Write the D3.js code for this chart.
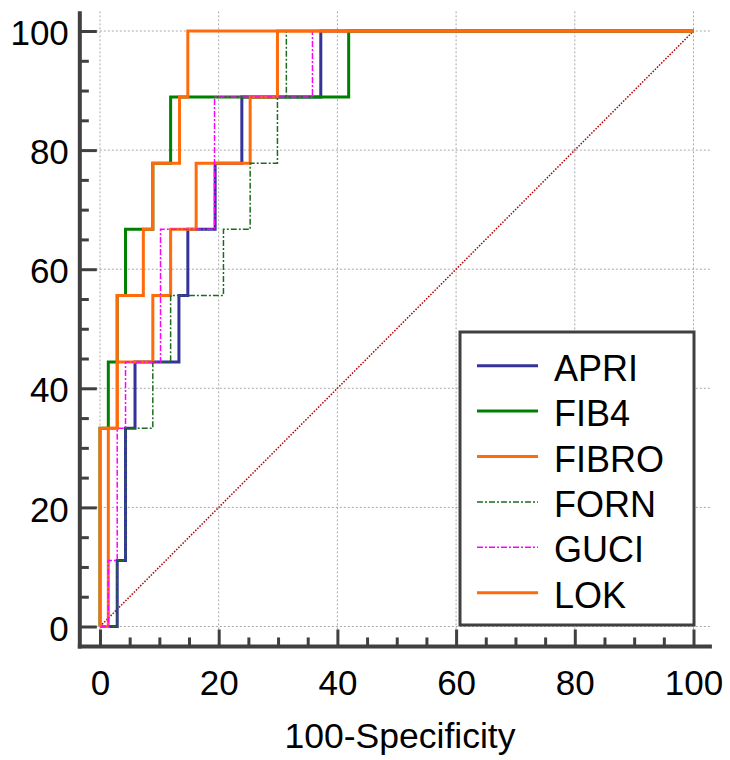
<!DOCTYPE html>
<html>
<head>
<meta charset="utf-8">
<script src="https://cdn.jsdelivr.net/npm/d3@7"></script>
<style>
  html, body { margin: 0; padding: 0; background: #fff; }
  svg { display: block; }
  text { font-family: "Liberation Sans", Arial, sans-serif; }
</style>
</head>
<body>
<svg id="chart" width="730" height="760"></svg>
<script>
// ---- data ----
const categories = ["APRI", "FIB4", "FIBRO", "FORN", "GUCI", "LOK"];
// ROC step points: vertical rise at previous x, then horizontal run to this x
const apriX  = [0, 2.9, 4.3, 5.9, 13.3, 14.8, 19.4, 23.9, 37.2, 100];
const apriY  = [0, 0, 11.1, 33.3, 44.4, 55.6, 66.7, 77.8, 88.9, 100];
const fib4X  = [0, 1.4, 2.9, 4.3, 8.9, 11.9, 41.9, 100];
const fib4Y  = [0, 33.3, 44.4, 55.6, 66.7, 77.8, 88.9, 100];
const fibroX = [0, 1.4, 2.9, 8.9, 11.9, 16.2, 25.3, 29.9, 100];
const fibroY = [0, 0, 33.3, 44.4, 55.6, 66.7, 77.8, 88.9, 100];
const fornX  = [0, 2.9, 4.3, 8.9, 11.9, 20.8, 25.3, 29.9, 31.4, 100];
const fornY  = [0, 0, 11.1, 33.3, 44.4, 55.6, 66.7, 77.8, 88.9, 100];
const guciX  = [0, 1.4, 2.9, 4.3, 10.2, 19.3, 35.8, 100];
const guciY  = [0, 0, 11.1, 33.3, 44.4, 66.7, 88.9, 100];
const lokX   = [0, 2.9, 7.3, 8.9, 13.4, 14.8, 100];
const lokY   = [0, 33.3, 55.6, 66.7, 77.8, 88.9, 100];
const refX   = [0, 100];
const refY   = [0, 100];
const majorTicks = [0, 20, 40, 60, 80, 100];
const minorTicks = [5, 10, 15, 25, 30, 35, 45, 50, 55, 65, 70, 75, 85, 90, 95];
const xTitle = "100-Specificity";

const seriesX = [apriX, fib4X, fibroX, fornX, guciX, lokX];
const seriesY = [apriY, fib4Y, fibroY, fornY, guciY, lokY];
const colors  = ["#333399", "#008000", "#ff6a0a", "#1e6b1e", "#ff00ff", "#ff6a0a"];
const widths  = [3, 3, 3, 1.5, 1.5, 3];
const dashes  = [null, null, null, "6,2,2,2", "6,2,2,2", null];

// ---- layout ----
const svg = d3.select("#chart");
const x = d3.scaleLinear().domain([0, 100]).range([100, 693.5]);
const y = d3.scaleLinear().domain([0, 100]).range([626.5, 31]);
const axX = x(-3.4), axY = y(-3.35), xEnd = x(103.1), yTop = y(103.3);
const axisColor = "#404040";

// grid
const grid = svg.append("g");
majorTicks.forEach(v => {
  grid.append("line").attr("x1", x(v)).attr("x2", x(v)).attr("y1", yTop).attr("y2", axY)
    .attr("stroke", "#a8a8a8").attr("stroke-width", 1).attr("stroke-dasharray", "2,2");
  grid.append("line").attr("x1", axX).attr("x2", xEnd).attr("y1", y(v)).attr("y2", y(v))
    .attr("stroke", "#a8a8a8").attr("stroke-width", 1).attr("stroke-dasharray", "2,2");
});

// diagonal reference
svg.append("path")
  .datum(refX.map((d, i) => [d, refY[i]]))
  .attr("d", d3.line().x(d => x(d[0])).y(d => y(d[1])))
  .attr("fill", "none").attr("stroke", "#b00000").attr("stroke-width", 1.5)
  .attr("stroke-dasharray", "1.5,1.5");

// curves
seriesX.forEach((xs, i) => {
  const pts = xs.map((d, j) => [d, seriesY[i][j]]);
  svg.append("path")
    .datum(pts)
    .attr("d", d3.line().x(d => x(d[0])).y(d => y(d[1])).curve(d3.curveStepBefore))
    .attr("fill", "none")
    .attr("stroke", colors[i])
    .attr("stroke-width", widths[i])
    .attr("stroke-dasharray", dashes[i]);
});

// axes
function styleAxis(g) {
  g.select(".domain").remove();
  g.selectAll(".tick line").attr("stroke", axisColor).attr("stroke-width", 3);
  g.selectAll(".tick text").attr("fill", "#000").style("font-size", "35px")
    .style("font-family", '"Liberation Sans", Arial, sans-serif');
}
const gx = svg.append("g").attr("transform", `translate(0,${axY})`)
  .call(d3.axisBottom(x).tickValues(majorTicks).tickSize(-17).tickPadding(24).tickFormat(d3.format("d")));
styleAxis(gx);
const gxm = svg.append("g").attr("transform", `translate(0,${axY})`)
  .call(d3.axisBottom(x).tickValues(minorTicks).tickSize(-9).tickFormat(""));
styleAxis(gxm);
const gy = svg.append("g").attr("transform", `translate(${axX},0)`)
  .call(d3.axisLeft(y).tickValues(majorTicks).tickSize(-17).tickPadding(11).tickFormat(d3.format("d")));
styleAxis(gy);
gy.selectAll(".tick text").attr("dy", "0.39em");
const gym = svg.append("g").attr("transform", `translate(${axX},0)`)
  .call(d3.axisLeft(y).tickValues(minorTicks).tickSize(-9).tickFormat(""));
styleAxis(gym);

svg.append("line").attr("x1", axX).attr("x2", axX).attr("y1", yTop).attr("y2", axY + 2)
  .attr("stroke", axisColor).attr("stroke-width", 4);
svg.append("line").attr("x1", axX - 2).attr("x2", xEnd).attr("y1", axY).attr("y2", axY)
  .attr("stroke", axisColor).attr("stroke-width", 4);

// axis title
svg.append("text").attr("x", 400).attr("y", 748).attr("text-anchor", "middle")
  .style("font-size", "35.5px").attr("fill", "#000").text(xTitle);

// legend
const lg = svg.append("g");
lg.append("rect").attr("x", 460).attr("y", 332).attr("width", 234).attr("height", 293)
  .attr("fill", "#fff").attr("stroke", axisColor).attr("stroke-width", 3);
categories.forEach((c, i) => {
  const ly = 365.7 + i * 45.4;
  lg.append("line").attr("x1", 477).attr("x2", 538).attr("y1", ly).attr("y2", ly)
    .attr("stroke", colors[i]).attr("stroke-width", widths[i]).attr("stroke-dasharray", dashes[i]);
  lg.append("text").attr("x", 554).attr("y", ly + 15).style("font-size", "36px")
    .attr("fill", "#000").text(c);
});
</script>
</body>
</html>
